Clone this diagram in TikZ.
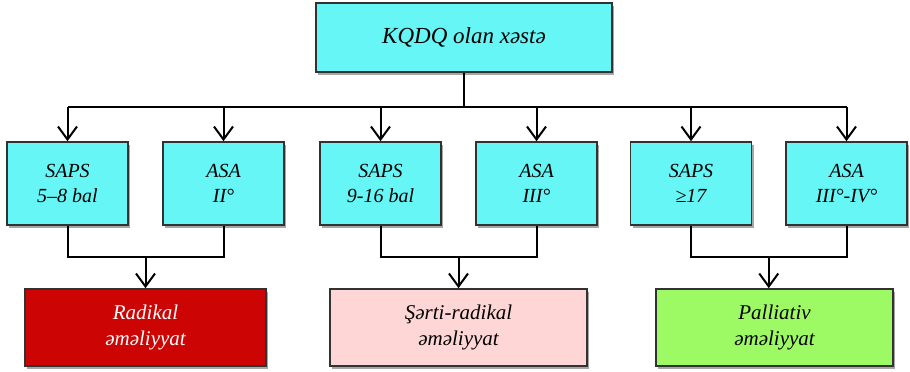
\documentclass[tikz,border=0pt]{standalone}
\usepackage{fontspec}
\setmainfont{Liberation Serif}
\usetikzlibrary{arrows.meta,shadows}
\definecolor{boxcyan}{RGB}{102,246,246}
\definecolor{boxred}{RGB}{204,4,4}
\definecolor{boxpink}{RGB}{255,214,214}
\definecolor{boxgreen}{RGB}{158,250,100}
\definecolor{boxedge}{RGB}{50,50,50}
\tikzset{
  base/.style={draw=boxedge, line width=1.6pt, inner sep=0pt, align=center,
    font=\fontsize{20}{25}\selectfont\itshape,
    drop shadow={shadow xshift=2pt, shadow yshift=-3pt, opacity=0.35, fill=black}},
  topbox/.style={base, fill=boxcyan, minimum width=296pt, minimum height=69pt,
    font=\fontsize{23}{27}\selectfont\itshape},
  midbox/.style={base, fill=boxcyan, minimum width=121pt, minimum height=83pt},
  lowbox/.style={base, minimum height=77pt, font=\fontsize{21}{26}\selectfont\itshape},
  conn/.style={line width=2pt, black},
  arr/.style={conn, -{Straight Barb[length=13pt,width=19pt,line width=2pt]}}
}
\begin{document}
\begin{tikzpicture}[x=1pt,y=-1pt]
\useasboundingbox (0,0) rectangle (910,372);
\node[topbox] (top) at (464,37.5) {KQDQ olan xəstə};
\node[midbox] (s1) at (67.5,183.5) {SAPS\\5–8 bal};
\node[midbox] (s2) at (223.5,183.5) {ASA\\II°};
\node[midbox] (s3) at (380.5,183.5) {SAPS\\9-16 bal};
\node[midbox] (s4) at (536.5,183.5) {ASA\\III°};
\node[midbox] (s5) at (691,183.5) {SAPS\\≥17};
\node[midbox] (s6) at (846.5,183.5) {ASA\\III°-IV°};
\node[lowbox, fill=boxred, text=white, minimum width=241pt] (b1) at (145.5,327.5) {Radikal\\əməliyyat};
\node[lowbox, fill=boxpink, minimum width=257pt] (b2) at (458.5,327.5) {Şərti-radikal\\əməliyyat};
\node[lowbox, fill=boxgreen, minimum width=237pt] (b3) at (774.5,327.5) {Palliativ\\əməliyyat};
\coordinate (j) at (464,107);
\draw[conn] (top.south) -- (j);
\draw[conn] (s1 |- j) -- (s6 |- j);
\foreach \n in {s1,s2,s3,s4,s5,s6}{\draw[arr] (\n |- j) -- (\n.north);}
\coordinate (ja) at (145.5,257);
\coordinate (jb) at (458.5,257);
\coordinate (jc) at (768.75,257);
\draw[conn] (s1.south) -- (s1 |- ja) -- (s2 |- ja) -- (s2.south);
\draw[conn] (s3.south) -- (s3 |- jb) -- (s4 |- jb) -- (s4.south);
\draw[conn] (s5.south) -- (s5 |- jc) -- (s6 |- jc) -- (s6.south);
\draw[arr] (ja) -- (b1.north);
\draw[arr] (jb) -- (b2.north);
\draw[arr] (jc) -- (jc |- b3.north);
\end{tikzpicture}
\end{document}
